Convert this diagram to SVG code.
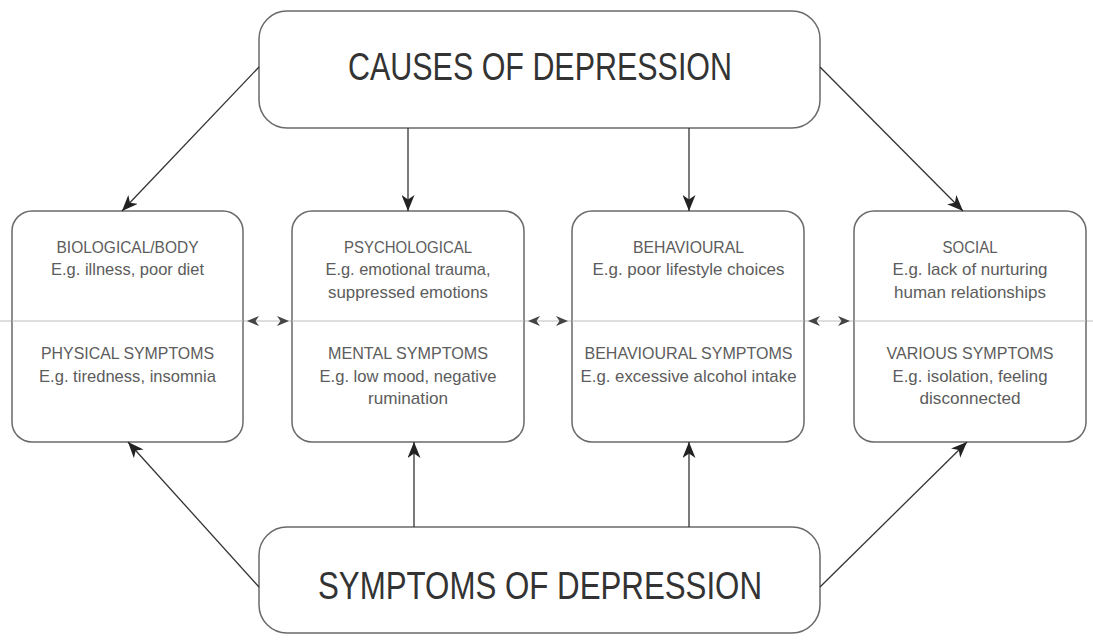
<svg xmlns="http://www.w3.org/2000/svg" width="1093" height="641" viewBox="0 0 1093 641">
<style>
.box{fill:#fff;stroke:#6a6a6a;stroke-width:1.5}
.conn{fill:none;stroke:#333;stroke-width:1.3}
.mid{stroke:#bdbdbd;stroke-width:1.2}
.big{font-family:"Liberation Sans",Arial,sans-serif;font-size:39px;fill:#333;text-anchor:middle}
.t{font-family:"Liberation Sans",Arial,sans-serif;font-size:17px;fill:#5c5c5c;text-anchor:middle}
.sm{fill:#444}
</style>
<defs>
<marker id="ah" markerUnits="userSpaceOnUse" markerWidth="17" markerHeight="13" refX="16" refY="6.5" orient="auto">
<path d="M0,0 L16,6.5 L0,13 L4.5,6.5 z" fill="#222"/>
</marker>
</defs>
<line class="mid" x1="0" y1="321" x2="1093" y2="321"/>
<g id="causes">
<rect class="box" x="259" y="11" width="561" height="117" rx="28"/>
<text class="big" x="540" y="80" textLength="384" lengthAdjust="spacingAndGlyphs">CAUSES OF DEPRESSION</text>
</g>
<g id="symptoms">
<rect class="box" x="259" y="527" width="561" height="106" rx="28"/>
<text class="big" x="540" y="599" textLength="444" lengthAdjust="spacingAndGlyphs">SYMPTOMS OF DEPRESSION</text>
</g>
<g id="biological">
<rect class="box" x="12" y="211" width="231" height="231" rx="20"/>
<line class="mid" x1="12" y1="321" x2="243" y2="321"/>
<text class="t" x="127.5" y="253" textLength="142" lengthAdjust="spacingAndGlyphs">BIOLOGICAL/BODY</text>
<text class="t" x="127.5" y="275" textLength="153" lengthAdjust="spacingAndGlyphs">E.g. illness, poor diet</text>
<text class="t" x="127.5" y="359" textLength="173" lengthAdjust="spacingAndGlyphs">PHYSICAL SYMPTOMS</text>
<text class="t" x="127.5" y="382" textLength="177" lengthAdjust="spacingAndGlyphs">E.g. tiredness, insomnia</text>
</g>
<g id="psychological">
<rect class="box" x="292" y="211" width="232" height="231" rx="20"/>
<line class="mid" x1="292" y1="321" x2="524" y2="321"/>
<text class="t" x="408" y="253" textLength="128" lengthAdjust="spacingAndGlyphs">PSYCHOLOGICAL</text>
<text class="t" x="408" y="275" textLength="165" lengthAdjust="spacingAndGlyphs">E.g. emotional trauma,</text>
<text class="t" x="408" y="298" textLength="160" lengthAdjust="spacingAndGlyphs">suppressed emotions</text>
<text class="t" x="408" y="359" textLength="160" lengthAdjust="spacingAndGlyphs">MENTAL SYMPTOMS</text>
<text class="t" x="408" y="382" textLength="177" lengthAdjust="spacingAndGlyphs">E.g. low mood, negative</text>
<text class="t" x="408" y="404" textLength="80" lengthAdjust="spacingAndGlyphs">rumination</text>
</g>
<g id="behavioural">
<rect class="box" x="572" y="211" width="232" height="231" rx="20"/>
<line class="mid" x1="572" y1="321" x2="804" y2="321"/>
<text class="t" x="688.5" y="253" textLength="111" lengthAdjust="spacingAndGlyphs">BEHAVIOURAL</text>
<text class="t" x="688.5" y="275" textLength="192" lengthAdjust="spacingAndGlyphs">E.g. poor lifestyle choices</text>
<text class="t" x="688.5" y="359" textLength="208" lengthAdjust="spacingAndGlyphs">BEHAVIOURAL SYMPTOMS</text>
<text class="t" x="688.5" y="382" textLength="216" lengthAdjust="spacingAndGlyphs">E.g. excessive alcohol intake</text>
</g>
<g id="social">
<rect class="box" x="854" y="211" width="232" height="231" rx="20"/>
<line class="mid" x1="854" y1="321" x2="1086" y2="321"/>
<text class="t" x="970" y="253" textLength="55" lengthAdjust="spacingAndGlyphs">SOCIAL</text>
<text class="t" x="970" y="275" textLength="155" lengthAdjust="spacingAndGlyphs">E.g. lack of nurturing</text>
<text class="t" x="970" y="298" textLength="152" lengthAdjust="spacingAndGlyphs">human relationships</text>
<text class="t" x="970" y="359" textLength="167" lengthAdjust="spacingAndGlyphs">VARIOUS SYMPTOMS</text>
<text class="t" x="970" y="382" textLength="155" lengthAdjust="spacingAndGlyphs">E.g. isolation, feeling</text>
<text class="t" x="970" y="404" textLength="101" lengthAdjust="spacingAndGlyphs">disconnected</text>
</g>
<g id="connectors">
<line class="conn" x1="259" y1="67" x2="122" y2="211" marker-end="url(#ah)"/>
<line class="conn" x1="408" y1="128" x2="408" y2="211" marker-end="url(#ah)"/>
<line class="conn" x1="689" y1="128" x2="689" y2="211" marker-end="url(#ah)"/>
<line class="conn" x1="820" y1="67" x2="963" y2="211" marker-end="url(#ah)"/>
<line class="conn" x1="259" y1="587" x2="128" y2="442" marker-end="url(#ah)"/>
<line class="conn" x1="414" y1="527" x2="414" y2="442" marker-end="url(#ah)"/>
<line class="conn" x1="689" y1="527" x2="689" y2="442" marker-end="url(#ah)"/>
<line class="conn" x1="820" y1="587" x2="967" y2="442" marker-end="url(#ah)"/>
<g class="sm">
<path d="M247,321 L259,316 L255.5,321 L259,326 z"/>
<path d="M289,321 L277,316 L280.5,321 L277,326 z"/>
<path d="M528,321 L540,316 L536.5,321 L540,326 z"/>
<path d="M568,321 L556,316 L559.5,321 L556,326 z"/>
<path d="M808,321 L820,316 L816.5,321 L820,326 z"/>
<path d="M850,321 L838,316 L841.5,321 L838,326 z"/>
</g>
</g>
</svg>
